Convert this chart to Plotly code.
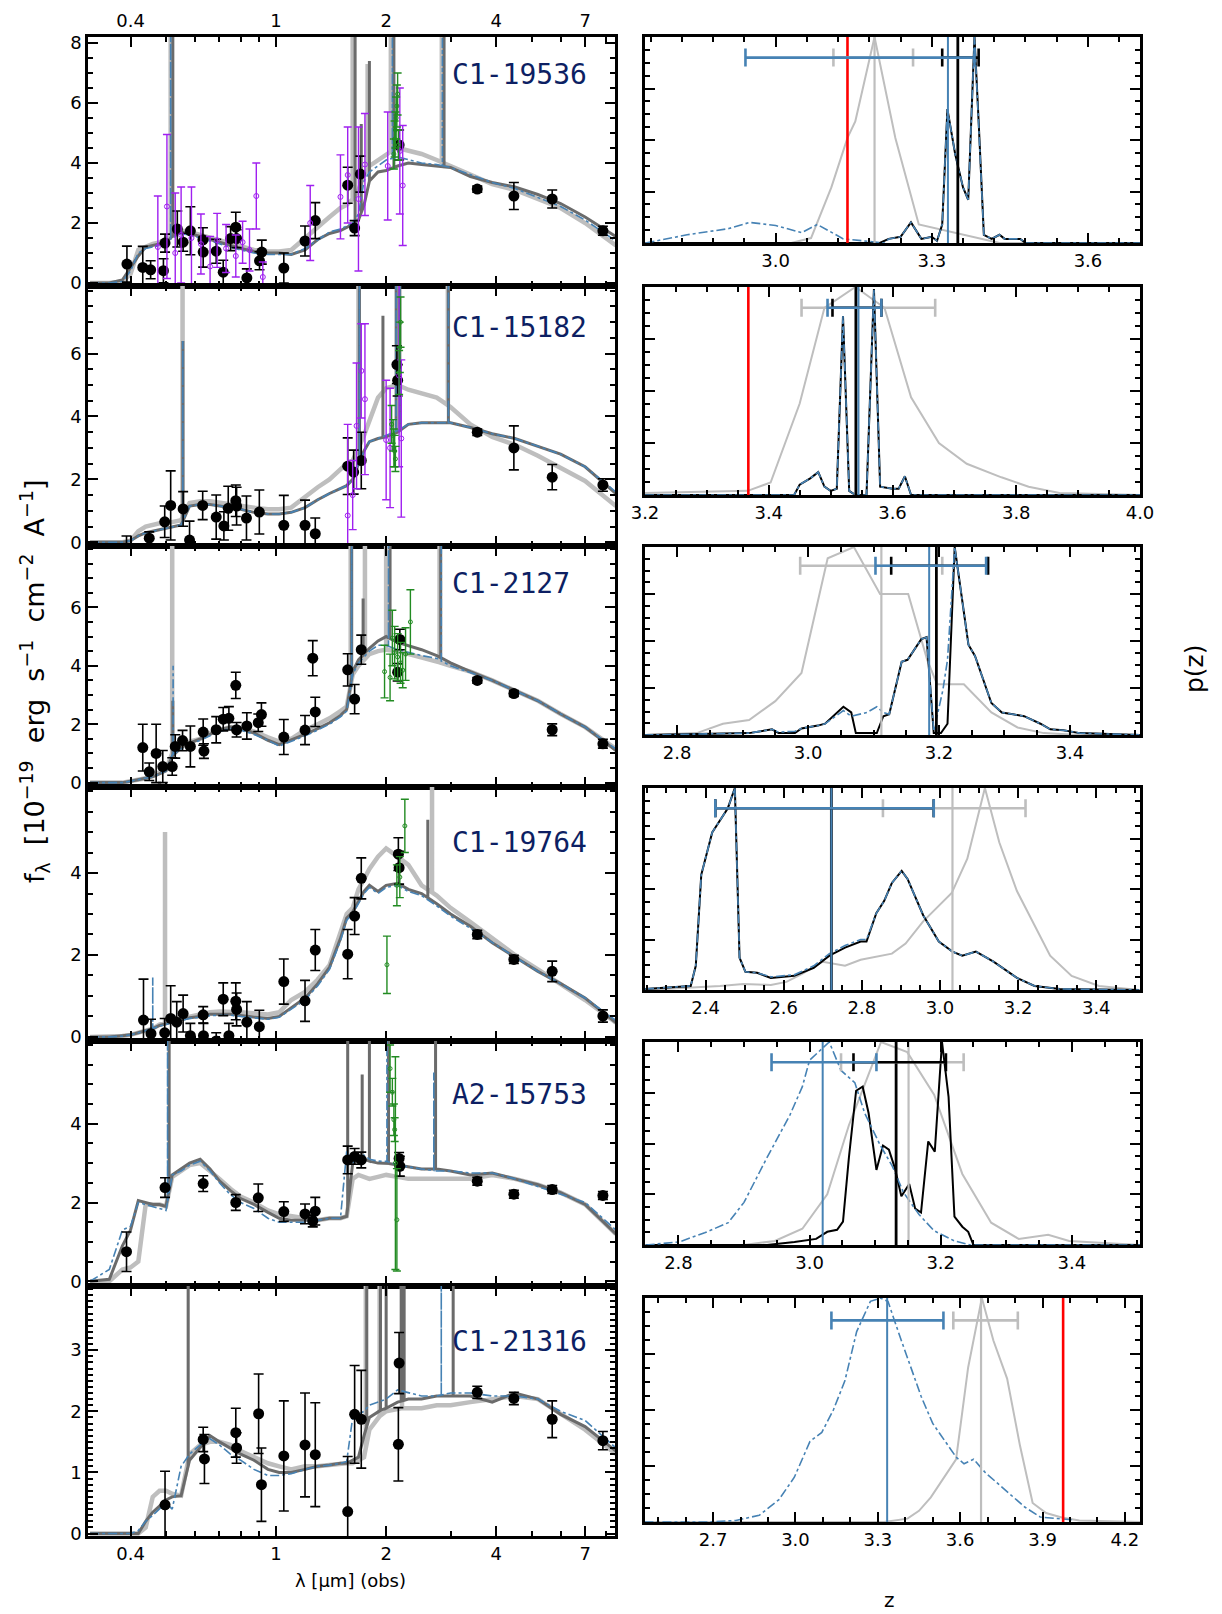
import numpy as np
import plotly.graph_objects as go

# ----------------------------------------------------------------- data
NAMES = ["C1-19536", "C1-15182", "C1-2127", "C1-19764", "A2-15753", "C1-21316"]

# model wavelength grid (micron, observed)
WL = [0.31, 0.35, 0.38, 0.40, 0.42, 0.44, 0.46, 0.48, 0.50, 0.52, 0.55, 0.58, 0.62, 0.66, 0.70,
      0.75, 0.80, 0.87, 0.95, 1.02, 1.10, 1.20, 1.30, 1.40, 1.50, 1.56, 1.62, 1.68, 1.74, 1.80,
      1.90, 2.00, 2.15, 2.30, 2.50, 2.75, 3.00, 3.40, 3.90, 4.50, 5.20, 6.00, 7.00, 8.50]

# panel 1  C1-19536
DG1 = [0, 0, 0.1, 0.5, 0.9, 1.2, 1.25, 1.3, 1.35, 1.55, 1.7, 1.65, 1.55, 1.45, 1.35,
       1.25, 1.15, 1.05, 1.0, 1.0, 0.95, 1.1, 1.45, 1.65, 1.75, 1.85, 1.95, 2.1, 2.6, 3.4,
       3.7, 3.75, 3.9, 4.0, 3.95, 3.9, 3.85, 3.55, 3.35, 3.2, 2.95, 2.65, 2.2, 1.55]
LG1 = [0, 0, 0.05, 0.3, 1.1, 1.2, 1.3, 1.35, 1.45, 1.6, 1.75, 1.7, 1.6, 1.5, 1.4,
       1.3, 1.2, 1.1, 1.05, 1.05, 1.1, 1.5, 1.9, 2.2, 2.5, 2.6, 2.8, 3.1, 3.6, 3.9,
       4.1, 4.3, 4.5, 4.4, 4.3, 4.1, 3.9, 3.6, 3.3, 3.1, 2.8, 2.5, 2.0, 1.25]
BL1 = [0, 0, 0.05, 0.4, 1.0, 1.15, 1.2, 1.25, 1.3, 1.5, 1.65, 1.6, 1.5, 1.4, 1.3,
       1.2, 1.1, 1.0, 0.95, 0.95, 0.95, 1.15, 1.45, 1.7, 1.8, 1.9, 2.0, 2.3, 3.4, 3.7,
       3.9, 4.1, 4.2, 4.1, 4.0, 3.95, 3.85, 3.6, 3.35, 3.15, 2.85, 2.55, 2.1, 1.4]
LG1_LINES = [0.515, 1.62, 1.78, 2.06, 2.84]
LG1_TOPS = [20, 20, 7.3, 20, 20]
DG1_LINES = [0.522, 1.645, 1.71, 1.80, 2.10, 2.88]
DG1_TOPS = [20, 20, 5.3, 7.4, 20, 20]
BL1_LINES = [0.515, 2.08, 2.85]
BL1_TOPS = [20, 20, 20]
PH1_WL = [0.391, 0.432, 0.454, 0.492, 0.497, 0.537, 0.557, 0.583, 0.631, 0.632, 0.686, 0.717, 0.751, 0.776, 0.78,
          0.832, 0.901, 0.914, 1.05, 1.2, 1.28, 1.57, 1.64, 1.70, 2.17, 3.55, 4.47, 5.69, 7.83]
PH1_F = [0.63, 0.52, 0.44, 0.41, 1.33, 1.8, 1.36, 1.74, 1.44, 1.03, 1.06, 0.36, 1.48, 1.86, 1.48,
         0.17, 0.74, 1.03, 0.5, 1.4, 2.08, 3.26, 1.83, 3.63, 4.6, 3.13, 2.9, 2.8, 1.74]
PH1_E = [0.6, 0.7, 0.3, 0.4, 0.3, 0.6, 0.3, 0.8, 0.4, 0.5, 0.4, 0.4, 0.4, 0.5, 0.3,
         0.3, 0.3, 0.4, 0.5, 0.5, 0.6, 0.6, 0.25, 0.6, 0.5, 0.1, 0.45, 0.3, 0.15]
PU1_WL = [0.475, 0.503, 0.53, 0.55, 0.587, 0.623, 0.66, 0.69, 0.73, 0.776, 0.81, 0.846, 0.883, 0.92, 1.24,
          1.5, 1.57, 1.68, 1.75, 2.02, 2.18, 2.22]
PU1_F = [1.2, 2.55, 1.0, 1.6, 1.5, 1.3, 0.55, 1.42, 1.15, 0.9, 1.36, 1.1, 2.9, 0.2, 2.0,
         2.87, 3.6, 2.8, 3.95, 3.9, 4.4, 3.25]
PU1_E = [1.7, 2.4, 2.0, 1.6, 1.7, 1.0, 1.0, 0.9, 0.8, 0.7, 0.7, 0.7, 1.1, 0.5, 1.25,
         1.4, 1.6, 2.4, 1.7, 1.8, 2.1, 2.0]
GR1_WL = [2.10, 2.11, 2.12, 2.13, 2.14, 2.15, 2.16]
GR1_F = [4.3, 4.8, 5.1, 5.5, 5.9, 6.3, 4.6]
GR1_E = [0.5, 0.6, 0.6, 0.7, 0.7, 0.7, 0.5]

# panel 2  C1-15182
DG2 = [0, 0, 0, 0.05, 0.2, 0.3, 0.35, 0.4, 0.45, 0.5, 0.55, 1.15, 1.2, 1.2, 1.15,
       1.1, 1.05, 0.95, 0.9, 0.9, 0.95, 1.1, 1.35, 1.55, 1.7, 1.8, 2.0, 2.5, 2.9, 3.2,
       3.3, 3.35, 3.5, 3.75, 3.8, 3.8, 3.8, 3.65, 3.45, 3.3, 3.05, 2.8, 2.4, 1.55]
LG2 = [0, 0, 0, 0.05, 0.35, 0.5, 0.55, 0.6, 0.6, 0.65, 0.7, 1.25, 1.3, 1.3, 1.25,
       1.2, 1.15, 1.1, 1.05, 1.05, 1.1, 1.45, 1.75, 2.0, 2.3, 2.5, 2.6, 3.0, 3.4, 3.9,
       4.6, 4.9, 5.0, 4.85, 4.75, 4.6, 4.3, 3.75, 3.35, 3.1, 2.75, 2.35, 1.95, 1.15]
BL2 = [0, 0, 0, 0.05, 0.2, 0.3, 0.35, 0.4, 0.45, 0.5, 0.55, 1.15, 1.2, 1.2, 1.15,
       1.1, 1.05, 0.95, 0.9, 0.9, 0.95, 1.1, 1.35, 1.55, 1.7, 1.8, 2.0, 2.5, 2.9, 3.2,
       3.3, 3.4, 3.55, 3.75, 3.8, 3.8, 3.8, 3.65, 3.45, 3.3, 3.05, 2.8, 2.4, 1.6]
LG2_LINES = [0.555, 1.68, 2.15, 2.95]
LG2_TOPS = [20, 20, 20, 20]
DG2_LINES = [0.556, 1.69, 1.96, 2.13, 2.18, 2.96]
DG2_TOPS = [6.4, 20, 7.2, 20, 20, 20]
BL2_LINES = [0.556, 1.69, 2.13, 2.18, 2.96]
BL2_TOPS = [6.4, 20, 20, 20, 20]
PH2_WL = [0.39, 0.45, 0.496, 0.515, 0.557, 0.58, 0.63, 0.686, 0.72, 0.74, 0.776, 0.78, 0.83, 0.90, 1.05,
          1.2, 1.28, 1.57, 1.63, 1.71, 2.14, 2.15, 3.55, 4.47, 5.69, 7.83]
PH2_F = [-0.25, 0.13, 0.65, 1.17, 1.06, 0.07, 1.17, 0.8, 0.52, 1.08, 1.32, 1.15, 0.77, 0.96, 0.54,
         0.54, 0.27, 2.42, 2.23, 2.6, 5.65, 5.15, 3.5, 3.0, 2.07, 1.82]
PH2_E = [0.45, 0.2, 0.5, 1.1, 0.55, 0.6, 0.45, 0.7, 0.45, 0.7, 0.5, 0.6, 0.7, 0.7, 0.95,
         0.8, 0.5, 0.9, 0.7, 0.9, 0.6, 0.5, 0.1, 0.7, 0.4, 0.2]
PU2_WL = [1.57, 1.62, 1.66, 1.71, 1.75, 2.0, 2.05, 2.17, 2.2]
PU2_F = [0.85, 1.5, 3.7, 5.45, 4.55, 3.25, 3.0, 5.3, 3.3]
PU2_E = [2.9, 1.1, 2.0, 1.5, 2.4, 1.9, 1.9, 2.9, 2.5]
GR2_WL = [2.07, 2.09, 2.10, 2.11, 2.12, 2.17, 2.18, 2.19]
GR2_F = [3.75, 3.4, 3.0, 2.9, 2.65, 5.4, 6.2, 7.0]
GR2_E = [0.6, 0.5, 0.6, 0.5, 0.4, 0.7, 0.8, 0.8]

# panel 3  C1-2127
DG3 = [0, 0, 0, 0.05, 0.1, 0.15, 0.2, 0.3, 0.4, 0.9, 1.2, 1.35, 1.5, 1.65, 1.8,
       1.9, 1.85, 1.7, 1.45, 1.3, 1.45, 1.65, 1.85, 2.05, 2.3, 2.5, 3.8, 4.2, 4.4, 4.6,
       4.85, 5.0, 4.8, 4.7, 4.55, 4.35, 4.1, 3.8, 3.5, 3.15, 2.8, 2.35, 1.9, 1.1]
LG3 = [0, 0, 0, 0.05, 0.1, 0.15, 0.25, 0.35, 0.45, 1.0, 1.25, 1.4, 1.5, 1.7, 1.8,
       1.9, 1.85, 1.75, 1.55, 1.4, 1.5, 1.8, 2.0, 2.2, 2.45, 2.6, 3.7, 4.0, 4.2, 4.4,
       4.5, 4.55, 4.5, 4.4, 4.3, 4.15, 4.0, 3.8, 3.5, 3.15, 2.8, 2.35, 1.9, 1.15]
BL3 = [0, 0, 0, 0.05, 0.1, 0.15, 0.2, 0.3, 0.4, 0.95, 1.15, 1.3, 1.45, 1.6, 1.75,
       1.85, 1.8, 1.65, 1.45, 1.25, 1.4, 1.6, 1.8, 2.0, 2.25, 2.45, 3.7, 4.1, 4.3, 4.5,
       4.7, 4.7, 4.55, 4.45, 4.35, 4.25, 4.0, 3.75, 3.5, 3.15, 2.8, 2.35, 1.9, 1.15]
LG3_LINES = [0.52, 1.60, 1.75, 2.00, 2.80]
LG3_TOPS = [20, 20, 20, 20, 20]
DG3_LINES = [0.522, 1.61, 1.73, 2.05, 2.82]
DG3_TOPS = [2.8, 20, 6.3, 20, 20]
BL3_LINES = [0.523, 1.61, 2.03, 2.83]
BL3_TOPS = [4.0, 20, 20, 20]
PH3_WL = [0.432, 0.45, 0.47, 0.49, 0.52, 0.53, 0.555, 0.583, 0.632, 0.635, 0.686, 0.717, 0.743, 0.776, 0.78,
          0.832, 0.894, 0.912, 1.05, 1.2, 1.26, 1.28, 1.57, 1.64, 1.71, 2.15, 2.18, 3.55, 4.47, 5.69, 7.83]
PH3_F = [1.2, 0.37, 1.0, 0.55, 0.55, 1.24, 1.44, 1.24, 1.73, 1.08, 1.81, 2.17, 2.2, 3.33, 1.81,
         1.94, 2.05, 2.33, 1.56, 1.8, 4.26, 2.42, 3.86, 2.86, 4.55, 3.78, 4.9, 3.5, 3.05, 1.81, 1.33]
PH3_E = [0.8, 0.3, 1.0, 0.55, 0.3, 0.4, 0.35, 0.7, 0.45, 0.25, 0.45, 0.4, 0.4, 0.45, 0.25,
         0.45, 0.3, 0.4, 0.6, 0.5, 0.6, 0.5, 0.55, 0.5, 0.5, 0.3, 0.35, 0.1, 0.1, 0.2, 0.15]
GR3_WL = [1.98, 2.05, 2.08, 2.11, 2.15, 2.19, 2.22, 2.26, 2.33]
GR3_F = [3.8, 3.6, 4.95, 4.45, 4.3, 4.1, 3.85, 4.4, 5.5]
GR3_E = [0.9, 0.8, 0.95, 0.9, 0.8, 0.7, 0.6, 0.9, 1.1]

# panel 4  C1-19764
DG4 = [0, 0, 0.03, 0.05, 0.1, 0.15, 0.2, 0.28, 0.32, 0.36, 0.42, 0.47, 0.5, 0.55, 0.55,
       0.55, 0.52, 0.48, 0.45, 0.5, 0.7, 0.95, 1.3, 1.7, 2.4, 2.9, 3.05, 3.3, 3.55, 3.7,
       3.55, 3.7, 3.75, 3.6, 3.5, 3.25, 3.0, 2.7, 2.3, 1.95, 1.6, 1.3, 0.95, 0.35]
LG4 = [0, 0, 0.02, 0.05, 0.1, 0.15, 0.2, 0.3, 0.35, 0.4, 0.45, 0.5, 0.55, 0.6, 0.62,
       0.62, 0.6, 0.58, 0.55, 0.6, 0.9, 1.1, 1.4, 1.75, 2.5, 3.0, 3.15, 3.6, 3.85, 4.1,
       4.4, 4.6, 4.4, 4.2, 3.7, 3.45, 3.15, 2.8, 2.4, 2.0, 1.65, 1.3, 0.9, 0.35]
BL4 = [0, 0, 0.02, 0.05, 0.1, 0.15, 0.2, 0.27, 0.3, 0.35, 0.4, 0.45, 0.48, 0.52, 0.53,
       0.53, 0.5, 0.46, 0.43, 0.48, 0.68, 0.9, 1.25, 1.65, 2.35, 2.85, 3.0, 3.25, 3.5, 3.65,
       3.5, 3.65, 3.7, 3.55, 3.45, 3.2, 2.95, 2.65, 2.3, 1.95, 1.6, 1.3, 0.95, 0.4]
LG4_LINES = [0.497, 2.67]
LG4_TOPS = [5.0, 20]
DG4_LINES = [2.60]
DG4_TOPS = [5.3]
BL4_LINES = [0.46]
BL4_TOPS = [1.45]
PH4_WL = [0.434, 0.455, 0.496, 0.515, 0.535, 0.557, 0.583, 0.632, 0.633, 0.686, 0.717, 0.743, 0.776, 0.78,
          0.832, 0.90, 1.05, 1.2, 1.28, 1.57, 1.64, 1.71, 2.16, 2.17, 3.55, 4.47, 5.69, 7.83]
PH4_F = [0.41, 0.08, 0.1, 0.45, 0.36, 0.57, 0.03, 0.54, 0.03, -0.1, 0.92, 0.03, 0.87, 0.67,
         0.36, 0.25, 1.35, 0.88, 2.12, 2.02, 2.95, 3.87, 4.46, 4.13, 2.5, 1.89, 1.6, 0.51]
PH4_E = [1.0, 0.35, 0.35, 0.8, 0.5, 0.45, 0.3, 0.2, 0.3, 0.2, 0.4, 0.3, 0.45, 0.4,
         0.5, 0.4, 0.55, 0.5, 0.5, 0.6, 0.45, 0.5, 0.4, 0.4, 0.1, 0.1, 0.25, 0.15]
GR4_WL = [2.01, 2.14, 2.18, 2.25]
GR4_F = [1.76, 3.7, 3.9, 5.15]
GR4_E = [0.7, 0.5, 0.5, 0.65]

# panel 5  A2-15753
DG5 = [0, 0.05, 0.9, 1.3, 2.05, 2.0, 1.95, 1.95, 1.9, 2.7, 2.85, 3.0, 3.1, 2.85, 2.55,
       2.3, 2.1, 1.95, 1.75, 1.6, 1.55, 1.55, 1.55, 1.6, 1.6, 1.65, 3.0, 3.05, 3.1, 3.05,
       3.0, 3.0, 2.95, 2.9, 2.85, 2.85, 2.8, 2.7, 2.75, 2.6, 2.45, 2.25, 1.95, 1.2]
LG5 = [0, 0, 0.3, 0.35, 0.5, 1.95, 1.95, 1.95, 1.9, 2.65, 2.8, 2.95, 3.0, 2.8, 2.6,
       2.35, 2.15, 2.0, 1.8, 1.7, 1.65, 1.6, 1.55, 1.6, 1.6, 1.65, 2.6, 2.7, 2.65, 2.6,
       2.65, 2.7, 2.65, 2.6, 2.6, 2.6, 2.6, 2.6, 2.7, 2.6, 2.45, 2.25, 1.95, 1.2]
BL5 = [0, 0.3, 1.3, 1.4, 2.0, 1.95, 1.9, 1.85, 1.8, 2.7, 2.8, 2.95, 3.05, 2.8, 2.5,
       2.2, 2.0, 1.85, 1.6, 1.5, 1.5, 1.5, 1.55, 1.6, 1.6, 3.3, 3.0, 3.15, 3.2, 3.1,
       3.05, 3.05, 2.95, 2.9, 2.85, 2.8, 2.8, 2.75, 2.75, 2.6, 2.4, 2.2, 2.0, 1.3]
LG5_LINES = []
LG5_TOPS = []
DG5_LINES = [0.51, 1.57, 1.72, 1.80, 2.03, 2.73]
DG5_TOPS = [20, 20, 5.25, 20, 20, 20]
BL5_LINES = [0.505, 2.01, 2.70]
BL5_TOPS = [20, 20, 5.3]
PH5_WL = [0.39, 0.497, 0.632, 0.776, 0.894, 1.05, 1.2, 1.26, 1.28, 1.57, 1.64, 1.71, 2.17, 2.18, 3.55,
          4.47, 5.69, 7.83]
PH5_F = [0.75, 2.38, 2.48, 2.0, 2.12, 1.77, 1.71, 1.53, 1.78, 3.08, 3.17, 3.08, 3.12, 2.92, 2.54,
         2.21, 2.33, 2.18]
PH5_E = [0.5, 0.25, 0.2, 0.2, 0.35, 0.25, 0.25, 0.15, 0.35, 0.35, 0.2, 0.2, 0.15, 0.25, 0.1,
         0.1, 0.1, 0.1]
GR5_WL = [2.05, 2.08, 2.10, 2.11, 2.12, 2.14]
GR5_F = [5.4, 4.8, 4.1, 3.85, 3.0, 1.56]
GR5_E = [0.6, 0.35, 0.4, 0.3, 2.7, 1.3]

# panel 6  C1-21316
DG6 = [0, 0, 0, 0, 0, 0.2, 0.35, 0.45, 0.55, 0.6, 0.62, 1.2, 1.4, 1.6, 1.5,
       1.4, 1.3, 1.2, 1.05, 1.0, 1.0, 1.05, 1.1, 1.12, 1.15, 1.15, 1.2, 1.25, 1.6, 1.9,
       2.0, 2.05, 2.15, 2.2, 2.2, 2.25, 2.25, 2.25, 2.15, 2.3, 2.2, 1.95, 1.75, 1.35]
LG6 = [0, 0, 0, 0, 0, 0.1, 0.6, 0.7, 0.7, 0.65, 0.62, 1.3, 1.45, 1.5, 1.5,
       1.45, 1.35, 1.25, 1.15, 1.1, 1.05, 1.1, 1.1, 1.12, 1.15, 1.15, 1.15, 1.2, 1.25, 1.7,
       1.9, 2.0, 2.05, 2.05, 2.05, 2.1, 2.1, 2.15, 2.2, 2.25, 2.2, 1.95, 1.7, 1.3]
BL6 = [0, 0, 0, 0, 0.05, 0.2, 0.3, 0.4, 0.5, 0.4, 1.1, 1.3, 1.45, 1.55, 1.45,
       1.3, 1.2, 1.05, 0.95, 0.95, 0.98, 1.05, 1.1, 1.12, 1.15, 1.18, 1.9, 1.95, 2.0, 2.1,
       2.15, 2.2, 2.35, 2.3, 2.25, 2.25, 2.3, 2.3, 2.25, 2.25, 2.2, 2.0, 1.85, 1.4]
LG6_LINES = [1.76, 1.92, 2.21]
LG6_TOPS = [20, 20, 20]
DG6_LINES = [0.575, 1.77, 1.93, 2.00, 2.20, 2.24, 3.05]
DG6_TOPS = [20, 20, 20, 20, 20, 20, 20]
BL6_LINES = [2.83]
BL6_TOPS = [20]
PH6_WL = [0.497, 0.632, 0.637, 0.776, 0.78, 0.896, 0.912, 1.05, 1.2, 1.28, 1.57, 1.64, 1.71, 2.16, 2.17,
          3.55, 4.47, 5.69, 7.83]
PH6_F = [0.47, 1.54, 1.22, 1.65, 1.4, 1.96, 0.8, 1.27, 1.45, 1.29, 0.36, 1.95, 1.87, 1.46, 2.79,
         2.31, 2.21, 1.87, 1.52]
PH6_E = [0.55, 0.2, 0.4, 0.4, 0.25, 0.65, 0.6, 0.9, 0.85, 0.85, 0.9, 0.8, 0.8, 0.6, 0.5,
         0.1, 0.1, 0.3, 0.15]

# ---- p(z) panels
PZ1_GZ = [2.75, 3.03, 3.068, 3.107, 3.138, 3.153, 3.19, 3.23, 3.275, 3.36, 3.43, 3.70]
PZ1_GP = [0, 0, 0.024, 0.27, 0.51, 0.59, 1.0, 0.51, 0.09, 0.04, 0, 0]
PZ1_KZ = [2.75, 3.20, 3.217, 3.24, 3.26, 3.28, 3.30, 3.31, 3.32, 3.33, 3.345, 3.36, 3.37, 3.382, 3.39,
          3.40, 3.415, 3.43, 3.44, 3.47, 3.48, 3.70]
PZ1_KP = [0, 0, 0.02, 0.03, 0.1, 0.02, 0.03, 0.01, 0.09, 0.65, 0.43, 0.27, 0.21, 1.0, 0.59,
          0.04, 0.02, 0.04, 0.02, 0.02, 0, 0]
PZ1_BZ = [2.75, 2.83, 2.91, 2.95, 3.0, 3.05, 3.08, 3.13, 3.21, 3.217, 3.24, 3.26, 3.28, 3.30, 3.31,
          3.32, 3.33, 3.345, 3.36, 3.37, 3.382, 3.39, 3.40, 3.415, 3.43, 3.44, 3.47, 3.48, 3.70]
PZ1_BP = [0, 0.04, 0.07, 0.1, 0.085, 0.05, 0.09, 0.02, 0, 0.02, 0.03, 0.1, 0.02, 0.03, 0.01,
          0.09, 0.65, 0.43, 0.27, 0.21, 1.0, 0.59, 0.04, 0.02, 0.04, 0.02, 0.02, 0, 0]
PZ2_GZ = [3.2, 3.366, 3.403, 3.45, 3.49, 3.54, 3.587, 3.63, 3.675, 3.72, 3.776, 3.82, 3.87, 4.0]
PZ2_GP = [0.01, 0.02, 0.06, 0.44, 0.9, 1.0, 0.9, 0.47, 0.25, 0.15, 0.085, 0.04, 0.01, 0]
PZ2_KZ = [3.2, 3.441, 3.45, 3.467, 3.48, 3.49, 3.50, 3.51, 3.52, 3.53, 3.54, 3.558, 3.57, 3.58, 3.60,
          3.61, 3.62, 3.63, 4.0]
PZ2_KP = [0, 0, 0.05, 0.08, 0.11, 0.04, 0.02, 0.03, 0.86, 0.02, 0, 0, 0.99, 0.04, 0.03,
          0.03, 0.09, 0, 0]
PZ2_BZ = PZ2_KZ
PZ2_BP = [0, 0, 0.05, 0.08, 0.11, 0.04, 0.02, 0.03, 0.86, 0.02, 0, 0, 0.99, 0.04, 0.03,
          0.03, 0.09, 0, 0]
PZ3_GZ = [2.75, 2.83, 2.87, 2.91, 2.95, 2.99, 3.03, 3.07, 3.11, 3.153, 3.182, 3.197, 3.238, 3.28, 3.32,
          3.36, 3.415, 3.51]
PZ3_GP = [0, 0.01, 0.06, 0.08, 0.18, 0.33, 0.94, 1.0, 0.75, 0.75, 0.40, 0.27, 0.27, 0.12, 0.04,
          0.01, 0, 0]
PZ3_KZ = [2.75, 2.91, 2.945, 2.955, 2.98, 2.99, 3.015, 3.026, 3.054, 3.066, 3.073, 3.105, 3.115, 3.124, 3.143,
          3.152, 3.173, 3.181, 3.192, 3.203, 3.213, 3.224, 3.245, 3.255, 3.28, 3.296, 3.313, 3.33, 3.355, 3.37,
          3.39, 3.415, 3.51]
PZ3_KP = [0, 0.01, 0.03, 0.01, 0.01, 0.035, 0.05, 0.06, 0.15, 0.12, 0.01, 0.01, 0.1, 0.11, 0.39,
          0.40, 0.51, 0.52, 0.01, 0.01, 0.06, 1.0, 0.48, 0.42, 0.17, 0.12, 0.11, 0.1, 0.06, 0.03,
          0.025, 0.01, 0]
PZ3_BZ = [2.75, 2.91, 2.945, 2.955, 2.98, 2.99, 3.015, 3.026, 3.054, 3.066, 3.09, 3.105, 3.115, 3.124, 3.143,
          3.152, 3.173, 3.181, 3.192, 3.206, 3.213, 3.224, 3.245, 3.255, 3.28, 3.296, 3.313, 3.33, 3.355, 3.37,
          3.39, 3.415, 3.51]
PZ3_BP = [0, 0.01, 0.03, 0.015, 0.02, 0.035, 0.05, 0.06, 0.13, 0.1, 0.12, 0.15, 0.12, 0.11, 0.39,
          0.40, 0.51, 0.52, 0.02, 0.24, 0.4, 1.0, 0.48, 0.42, 0.17, 0.12, 0.11, 0.1, 0.06, 0.03,
          0.025, 0.01, 0]
PZ4_GZ = [2.245, 2.357, 2.437, 2.497, 2.567, 2.607, 2.647, 2.70, 2.757, 2.797, 2.877, 2.912, 2.957, 3.03, 3.07,
          3.115, 3.152, 3.197, 3.237, 3.282, 3.337, 3.407, 3.51]
PZ4_GP = [0, 0.01, 0.02, 0.03, 0.025, 0.04, 0.08, 0.14, 0.12, 0.15, 0.18, 0.23, 0.34, 0.48, 0.65,
          1.0, 0.73, 0.49, 0.34, 0.17, 0.07, 0.02, 0]
PZ4_KZ = [2.245, 2.362, 2.375, 2.389, 2.417, 2.457, 2.475, 2.487, 2.502, 2.532, 2.567, 2.627, 2.677, 2.717, 2.757,
          2.797, 2.812, 2.837, 2.857, 2.877, 2.902, 2.917, 2.957, 2.997, 3.032, 3.057, 3.092, 3.137, 3.197, 3.242,
          3.307, 3.51]
PZ4_KP = [0.005, 0.02, 0.12, 0.57, 0.78, 0.9, 1.0, 0.16, 0.09, 0.085, 0.06, 0.07, 0.11, 0.17, 0.21,
          0.24, 0.24, 0.38, 0.44, 0.53, 0.59, 0.55, 0.37, 0.24, 0.19, 0.17, 0.19, 0.14, 0.06, 0.02,
          0.005, 0]
PZ4_BZ = PZ4_KZ
PZ4_BP = [0.005, 0.02, 0.12, 0.57, 0.78, 0.9, 1.0, 0.16, 0.09, 0.085, 0.065, 0.075, 0.12, 0.18, 0.22,
          0.25, 0.25, 0.38, 0.44, 0.53, 0.59, 0.55, 0.37, 0.24, 0.19, 0.17, 0.19, 0.14, 0.06, 0.02,
          0.005, 0]
PZ5_GZ = [2.75, 2.9, 2.947, 2.989, 3.027, 3.06, 3.084, 3.109, 3.149, 3.19, 3.233, 3.277, 3.319, 3.364, 3.396, 3.504]
PZ5_GP = [0, 0, 0.02, 0.08, 0.25, 0.59, 0.79, 1.0, 0.95, 0.74, 0.35, 0.11, 0.03, 0.05, 0.02, 0]
PZ5_KZ = [2.75, 2.935, 2.977, 3.01, 3.027, 3.042, 3.051, 3.06, 3.071, 3.081, 3.09, 3.102, 3.112, 3.121, 3.13,
          3.14, 3.152, 3.161, 3.17, 3.181, 3.191, 3.202, 3.212, 3.221, 3.233, 3.242, 3.25, 3.504]
PZ5_KP = [0, 0, 0.015, 0.03, 0.065, 0.075, 0.115, 0.43, 0.76, 0.78, 0.65, 0.37, 0.49, 0.47, 0.38,
          0.24, 0.30, 0.18, 0.16, 0.51, 0.46, 1.0, 0.73, 0.14, 0.09, 0.065, 0, 0]
PZ5_BZ = [2.75, 2.801, 2.84, 2.876, 2.9, 2.935, 2.97, 2.989, 3.0, 3.03, 3.048, 3.069, 3.084, 3.108, 3.126,
          3.143, 3.167, 3.19, 3.221, 3.245, 3.504]
PZ5_BP = [0, 0.015, 0.06, 0.11, 0.21, 0.43, 0.64, 0.78, 0.91, 1.0, 0.86, 0.8, 0.65, 0.49, 0.39,
          0.26, 0.15, 0.07, 0.02, 0, 0]
PZ6_GZ = [2.45, 3.323, 3.408, 3.45, 3.493, 3.543, 3.585, 3.629, 3.679, 3.721, 3.771, 3.818, 3.864, 3.913, 3.97,
          4.034, 4.255]
PZ6_GP = [0, 0, 0.015, 0.05, 0.11, 0.2, 0.28, 0.69, 1.0, 0.81, 0.64, 0.34, 0.085, 0.04, 0.02,
          0.007, 0]
PZ6_KZ = []
PZ6_KP = []
PZ6_BZ = [2.45, 2.683, 2.783, 2.868, 2.94, 2.996, 3.053, 3.096, 3.138, 3.18, 3.223, 3.273, 3.309, 3.337, 3.38,
          3.458, 3.5, 3.585, 3.614, 3.649, 3.692, 3.778, 3.835, 3.892, 3.95, 4.006]
PZ6_BP = [0, 0, 0.007, 0.03, 0.1, 0.2, 0.36, 0.4, 0.5, 0.63, 0.85, 0.985, 1.0, 0.985, 0.83,
          0.56, 0.44, 0.29, 0.26, 0.28, 0.22, 0.13, 0.067, 0.022, 0.015, 0.01]

# redshift markers: spectroscopic (red), gray / blue / black estimates
ZSPEC = [3.138, 3.367, None, None, None, 3.975]
ZGRAY = [3.19, 3.54, 3.112, 3.032, 3.151, 3.676]
ZBLUE = [3.331, 3.545, 3.185, 2.722, 3.02, 3.334]
ZBLACK = [3.35, 3.541, 3.196, 2.722, 3.132, None]
ERR_GRAY = [(3.111, 3.264), (3.453, 3.669), (2.988, 3.205), (2.854, 3.219), (3.048, 3.235), (3.575, 3.81)]
ERR_BLUE = [(2.942, 3.382), (3.495, 3.582), (3.103, 3.272), (2.425, 2.984), (2.942, 3.102), (3.131, 3.539)]
ERR_BLACK = [(3.32, 3.39), (3.503, 3.582), (3.127, 3.275), (2.425, 2.984), (3.067, 3.208), None]

# axis settings
LEFT_YRANGE = [(-0.1, 8.2), (-0.12, 8.15), (-0.15, 8.1), (-0.1, 6.1), (-0.12, 6.1), (-0.04, 4.05)]
LEFT_YTICKS = [[0, 2, 4, 6, 8], [0, 2, 4, 6], [0, 2, 4, 6], [0, 2, 4], [0, 2, 4], [0, 1, 2, 3]]
LEFT_YMINOR = [0.5, 0.5, 0.5, 0.5, 0.5, 0.1]
XTICKS = [0.4, 1, 2, 4, 7]
XTICKTEXT = ["0.4", "1", "2", "4", "7"]
XMINOR = [0.3, 0.5, 0.6, 0.7, 0.8, 0.9, 3, 5, 6, 8]
RIGHT_XRANGE = [(2.749, 3.70), (3.2, 4.0), (2.751, 3.507), (2.245, 3.512), (2.749, 3.504), (2.452, 4.255)]
RIGHT_XDTICK = [0.3, 0.2, 0.2, 0.2, 0.2, 0.3]
RIGHT_XTICK0 = [3.0, 3.2, 2.8, 2.4, 2.8, 2.7]
RIGHT_XMINOR = [0.06, 0.05, 0.05, 0.05, 0.05, 0.1]

# ----------------------------------------------------------------- layout geometry (screen px)
W, H = 1222, 1614
OFF = 8                       # default page margin of the html body
FW, FH = W - OFF, H - OFF     # figure size so that it ends at the window edge
LEFT_X = (88, 615)
RIGHT_X = (645, 1140)
LEFT_Y = [(37, 286), (286, 546), (546, 787), (787, 1041), (1041, 1286), (1286, 1536)]
RIGHT_Y = [(37, 243), (287, 495), (547, 735), (788, 990), (1042, 1245), (1298, 1522)]


def px(x):
    return (x - OFF) / FW


def py(y):
    return 1 - (y - OFF) / FH


C_LG = "#bebebe"
C_DG = "#6b6b6b"
C_BL = "#4682b4"
C_PU = "#a020f0"
C_GR = "#228b22"
C_RED = "#ff0000"
C_NAME = "#0d1f63"

MODELS = [
    (DG1, LG1, BL1, DG1_LINES, DG1_TOPS, LG1_LINES, LG1_TOPS, BL1_LINES, BL1_TOPS),
    (DG2, LG2, BL2, DG2_LINES, DG2_TOPS, LG2_LINES, LG2_TOPS, BL2_LINES, BL2_TOPS),
    (DG3, LG3, BL3, DG3_LINES, DG3_TOPS, LG3_LINES, LG3_TOPS, BL3_LINES, BL3_TOPS),
    (DG4, LG4, BL4, DG4_LINES, DG4_TOPS, LG4_LINES, LG4_TOPS, BL4_LINES, BL4_TOPS),
    (DG5, LG5, BL5, DG5_LINES, DG5_TOPS, LG5_LINES, LG5_TOPS, BL5_LINES, BL5_TOPS),
    (DG6, LG6, BL6, DG6_LINES, DG6_TOPS, LG6_LINES, LG6_TOPS, BL6_LINES, BL6_TOPS),
]
PHOT = [(PH1_WL, PH1_F, PH1_E), (PH2_WL, PH2_F, PH2_E), (PH3_WL, PH3_F, PH3_E),
        (PH4_WL, PH4_F, PH4_E), (PH5_WL, PH5_F, PH5_E), (PH6_WL, PH6_F, PH6_E)]
PURPLE = [(PU1_WL, PU1_F, PU1_E), (PU2_WL, PU2_F, PU2_E), None, None, None, None]
GREEN = [(GR1_WL, GR1_F, GR1_E), (GR2_WL, GR2_F, GR2_E), (GR3_WL, GR3_F, GR3_E),
         (GR4_WL, GR4_F, GR4_E), (GR5_WL, GR5_F, GR5_E), None]
PZ = [(PZ1_GZ, PZ1_GP, PZ1_KZ, PZ1_KP, PZ1_BZ, PZ1_BP),
      (PZ2_GZ, PZ2_GP, PZ2_KZ, PZ2_KP, PZ2_BZ, PZ2_BP),
      (PZ3_GZ, PZ3_GP, PZ3_KZ, PZ3_KP, PZ3_BZ, PZ3_BP),
      (PZ4_GZ, PZ4_GP, PZ4_KZ, PZ4_KP, PZ4_BZ, PZ4_BP),
      (PZ5_GZ, PZ5_GP, PZ5_KZ, PZ5_KP, PZ5_BZ, PZ5_BP),
      (PZ6_GZ, PZ6_GP, PZ6_KZ, PZ6_KP, PZ6_BZ, PZ6_BP)]


def xa(i):
    return "x" if i == 1 else f"x{i}"


def ya(i):
    return "y" if i == 1 else f"y{i}"


def with_lines(wl, fl, lw, tops):
    """model continuum with emission-line spikes inserted"""
    lwl = np.log10(wl)
    pts = list(zip(wl, fl))
    for w, t in zip(lw, tops):
        b = float(np.interp(np.log10(w), lwl, fl))
        pts += [(w - 1e-4, b), (w, t), (w + 1e-4, b)]
    pts.sort(key=lambda p: p[0])
    return [p[0] for p in pts], [p[1] for p in pts]


fig = go.Figure()
NOHOVER = dict(showlegend=False, hoverinfo="skip")

# ---------------- left SED panels
for k in range(6):
    i = k + 1
    dg, lg, bl, dgl, dgt, lgl, lgt, bll, blt = MODELS[k]
    x, y = with_lines(WL, lg, lgl, lgt)
    fig.add_trace(go.Scatter(x=x, y=y, mode="lines", line=dict(color=C_LG, width=4.5),
                             xaxis=xa(i), yaxis=ya(i), **NOHOVER))
    x, y = with_lines(WL, dg, dgl, dgt)
    fig.add_trace(go.Scatter(x=x, y=y, mode="lines", line=dict(color=C_DG, width=3),
                             xaxis=xa(i), yaxis=ya(i), **NOHOVER))
    x, y = with_lines(WL, bl, bll, blt)
    fig.add_trace(go.Scatter(x=x, y=y, mode="lines", line=dict(color=C_BL, width=1.6, dash="dashdot"),
                             xaxis=xa(i), yaxis=ya(i), **NOHOVER))
    pw, pf, pe = PHOT[k]
    fig.add_trace(go.Scatter(x=pw, y=pf, mode="markers",
                             marker=dict(color="black", size=11),
                             error_y=dict(type="data", array=pe, color="black", thickness=1.6, width=5),
                             xaxis=xa(i), yaxis=ya(i), **NOHOVER))
    if PURPLE[k] is not None:
        w, f, e = PURPLE[k]
        fig.add_trace(go.Scatter(x=w, y=f, mode="markers",
                                 marker=dict(color="rgba(0,0,0,0)", size=5, line=dict(color=C_PU, width=1)),
                                 error_y=dict(type="data", array=e, color=C_PU, thickness=1.4, width=4),
                                 xaxis=xa(i), yaxis=ya(i), **NOHOVER))
    if GREEN[k] is not None:
        w, f, e = GREEN[k]
        fig.add_trace(go.Scatter(x=w, y=f, mode="markers",
                                 marker=dict(color="rgba(0,0,0,0)", size=4, line=dict(color=C_GR, width=1)),
                                 error_y=dict(type="data", array=e, color=C_GR, thickness=1.4, width=4),
                                 xaxis=xa(i), yaxis=ya(i), **NOHOVER))

# ---------------- right p(z) panels
for k in range(6):
    i = k + 7
    gz, gp, kz, kp, bz, bp = PZ[k]
    fig.add_trace(go.Scatter(x=gz, y=gp, mode="lines", line=dict(color=C_LG, width=2),
                             xaxis=xa(i), yaxis=ya(i), **NOHOVER))
    if kz:
        fig.add_trace(go.Scatter(x=kz, y=kp, mode="lines", line=dict(color="black", width=2),
                                 xaxis=xa(i), yaxis=ya(i), **NOHOVER))
    fig.add_trace(go.Scatter(x=bz, y=bp, mode="lines", line=dict(color=C_BL, width=1.6, dash="dashdot"),
                             xaxis=xa(i), yaxis=ya(i), **NOHOVER))
    for z, col, wd in [(ZGRAY[k], C_LG, 2.2), (ZBLACK[k], "black", 2.8), (ZBLUE[k], C_BL, 2.0),
                       (ZSPEC[k], C_RED, 2.6)]:
        if z is None:
            continue
        fig.add_trace(go.Scatter(x=[z, z], y=[0, 1], mode="lines", line=dict(color=col, width=wd),
                                 xaxis=xa(i), yaxis=ya(i), **NOHOVER))
    for iv, col in [(ERR_GRAY[k], C_LG), (ERR_BLACK[k], "black"), (ERR_BLUE[k], C_BL)]:
        if iv is None:
            continue
        lo, hi = iv
        c = 0.5 * (lo + hi)
        fig.add_trace(go.Scatter(x=[c], y=[0.9], mode="markers", marker=dict(size=1, opacity=0),
                                 error_x=dict(type="data", symmetric=False, array=[hi - c], arrayminus=[c - lo],
                                              color=col, thickness=2.6, width=9),
                                 xaxis=xa(i), yaxis=ya(i), **NOHOVER))

# ---------------- axes
TICKFONT = dict(family="DejaVu Sans", size=18, color="black")
layout = dict(width=FW, height=FH, margin=dict(l=0, r=0, t=0, b=0, pad=0, autoexpand=False),
              paper_bgcolor="white", plot_bgcolor="white", showlegend=False)

for k in range(6):
    i = k + 1
    yt, yb = LEFT_Y[k]
    xkey = "xaxis" if i == 1 else f"xaxis{i}"
    ykey = "yaxis" if i == 1 else f"yaxis{i}"
    layout[xkey] = dict(domain=[px(LEFT_X[0]), px(LEFT_X[1])], anchor=ya(i), type="log",
                        range=[np.log10(0.306), np.log10(8.45)], automargin=False,
                        tickmode="array", tickvals=XTICKS, ticktext=XTICKTEXT,
                        ticks="inside", ticklen=10, tickwidth=2, tickcolor="black",
                        minor=dict(tickmode="array", tickvals=XMINOR, ticks="inside", ticklen=5,
                                   tickwidth=1.5, tickcolor="black", showgrid=False),
                        showline=True, linewidth=2.5, linecolor="black", mirror="allticks",
                        showgrid=False, zeroline=False, tickfont=TICKFONT,
                        showticklabels=(k == 0 or k == 5), side="top" if k == 0 else "bottom")
    layout[ykey] = dict(domain=[py(yb), py(yt)], anchor=xa(i), range=list(LEFT_YRANGE[k]),
                        automargin=False,
                        tickmode="array", tickvals=LEFT_YTICKS[k],
                        ticks="inside", ticklen=10, tickwidth=2, tickcolor="black",
                        minor=dict(dtick=LEFT_YMINOR[k], tick0=0, ticks="inside", ticklen=5,
                                   tickwidth=1.5, tickcolor="black", showgrid=False),
                        showline=True, linewidth=2.5, linecolor="black", mirror="allticks",
                        showgrid=False, zeroline=False, tickfont=TICKFONT)

for k in range(6):
    i = k + 7
    yt, yb = RIGHT_Y[k]
    xkey = f"xaxis{i}"
    ykey = f"yaxis{i}"
    layout[xkey] = dict(domain=[px(RIGHT_X[0]), px(RIGHT_X[1])], anchor=ya(i), range=list(RIGHT_XRANGE[k]),
                        automargin=False,
                        tick0=RIGHT_XTICK0[k], dtick=RIGHT_XDTICK[k], tickformat=".1f",
                        ticks="inside", ticklen=10, tickwidth=2, tickcolor="black",
                        minor=dict(dtick=RIGHT_XMINOR[k], tick0=RIGHT_XTICK0[k], ticks="inside", ticklen=5,
                                   tickwidth=1.5, tickcolor="black", showgrid=False),
                        showline=True, linewidth=2.5, linecolor="black", mirror="allticks",
                        showgrid=False, zeroline=False, tickfont=TICKFONT)
    layout[ykey] = dict(domain=[py(yb), py(yt)], anchor=xa(i), range=[0, 1.0],
                        automargin=False,
                        tickmode="array", tickvals=[0, 0.25, 0.5, 0.75, 1.0], showticklabels=False,
                        ticks="inside", ticklen=10, tickwidth=2, tickcolor="black",
                        minor=dict(dtick=0.0625, tick0=0, ticks="inside", ticklen=5,
                                   tickwidth=1.5, tickcolor="black", showgrid=False),
                        showline=True, linewidth=2.5, linecolor="black", mirror="allticks",
                        showgrid=False, zeroline=False)

# ---------------- annotations
ann = []
NAME_Y = [75, 327, 583, 842, 1094, 1341]
for k in range(6):
    ann.append(dict(x=px(450), y=py(NAME_Y[k]), xref="paper", yref="paper", text=NAMES[k],
                    showarrow=False, xanchor="left", yanchor="middle",
                    font=dict(family="DejaVu Sans Mono", size=28, color=C_NAME)))
ann.append(dict(x=px(34), y=py(681), xref="paper", yref="paper", textangle=-90, showarrow=False,
                text="f<sub>λ</sub>  [10<sup>−19</sup>  erg  s<sup>−1</sup>  cm<sup>−2</sup>  A<sup>−1</sup>]",
                font=dict(family="DejaVu Sans", size=27, color="black"), xanchor="center", yanchor="middle"))
ann.append(dict(x=px(1194), y=py(669), xref="paper", yref="paper", textangle=-90, showarrow=False,
                text="p(z)", font=dict(family="DejaVu Sans", size=25, color="black"),
                xanchor="center", yanchor="middle"))
ann.append(dict(x=px(350), y=py(1580), xref="paper", yref="paper", showarrow=False,
                text="λ [μm] (obs)", font=dict(family="DejaVu Sans", size=18, color="black"),
                xanchor="center", yanchor="middle"))
ann.append(dict(x=px(889), y=py(1600), xref="paper", yref="paper", showarrow=False,
                text="z", font=dict(family="DejaVu Sans", size=20, color="black"),
                xanchor="center", yanchor="middle"))
layout["annotations"] = ann

fig.update_layout(**layout)
fig.write_html("out.html")
